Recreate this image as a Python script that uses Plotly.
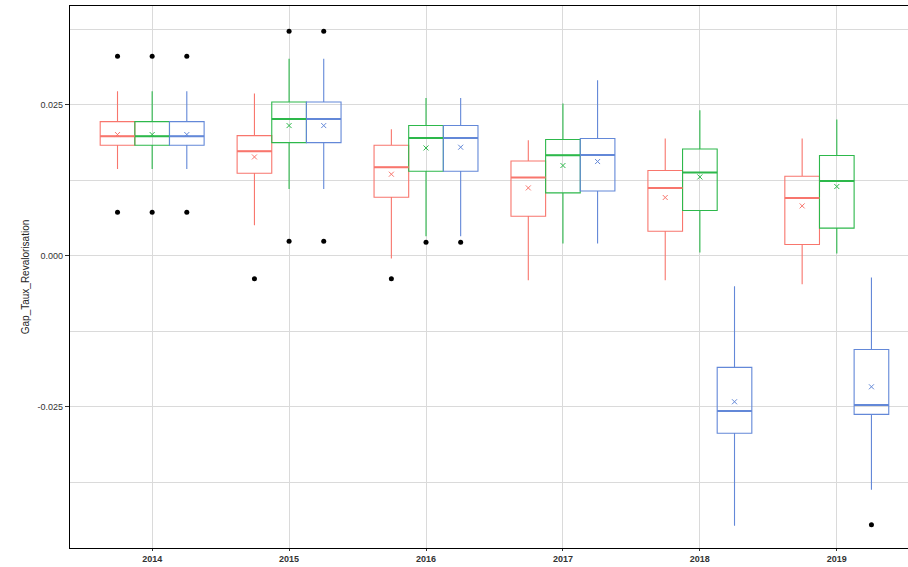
import plotly.graph_objects as go

years = [2014, 2015, 2016, 2017, 2018, 2019]
groups = ["Groupe 1", "Groupe 2", "Groupe 3"]
colors = ["#F8766D", "#2DB84B", "#6388D8"]
dodge = [-0.253, 0.0, 0.253]
box_width = 0.253

# Red series
red_lower = [0.0144, 0.00508, -0.00043, -0.00402, -0.00402, -0.00469]
red_q1 = [0.01833, 0.01369, 0.00972, 0.00657, 0.00409, 0.00189]
red_median = [0.01982, 0.01733, 0.01468, 0.01298, 0.01126, 0.0096]
red_q3 = [0.02225, 0.01993, 0.01833, 0.01573, 0.01414, 0.0132]
red_upper = [0.02727, 0.02689, 0.02098, 0.01915, 0.01944, 0.01944]
red_mean = [0.0201, 0.01639, 0.01353, 0.01126, 0.00967, 0.00828]
red_out_years = [2014, 2014, 2015, 2016]
red_out_values = [0.03306, 0.00723, -0.0038, -0.0038]

# Green series
green_lower = [0.0144, 0.01109, 0.00326, 0.00205, 0.00056, 0.0004]
green_q1 = [0.01833, 0.01877, 0.01402, 0.01043, 0.00752, 0.00459]
green_median = [0.01982, 0.02268, 0.01954, 0.01667, 0.01381, 0.01242]
green_q3 = [0.02225, 0.0255, 0.02159, 0.01927, 0.01771, 0.01662]
green_upper = [0.02727, 0.03268, 0.02616, 0.02523, 0.02412, 0.02258]
green_mean = [0.0201, 0.02159, 0.01788, 0.01497, 0.01308, 0.01149]
green_out_years = [2014, 2014, 2015, 2015, 2016]
green_out_values = [0.03306, 0.00723, 0.0372, 0.00243, 0.00227]

# Blue series
blue_lower = [0.0144, 0.01109, 0.00326, 0.00205, -0.0447, -0.03874]
blue_q1 = [0.01833, 0.01877, 0.01402, 0.01076, -0.0294, -0.02626]
blue_median = [0.01982, 0.02268, 0.01954, 0.01672, -0.02571, -0.02472]
blue_q3 = [0.02225, 0.0255, 0.02159, 0.01944, -0.01848, -0.0155]
blue_upper = [0.02727, 0.03268, 0.02616, 0.02909, -0.00502, -0.00358]
blue_mean = [0.0201, 0.02159, 0.018, 0.01563, -0.02417, -0.02169]
blue_out_years = [2014, 2014, 2015, 2015, 2016, 2019]
blue_out_values = [0.03306, 0.00723, 0.0372, 0.00243, 0.00227, -0.04454]

series = [
    (red_lower, red_q1, red_median, red_q3, red_upper, red_mean, red_out_years, red_out_values),
    (green_lower, green_q1, green_median, green_q3, green_upper, green_mean, green_out_years, green_out_values),
    (blue_lower, blue_q1, blue_median, blue_q3, blue_upper, blue_mean, blue_out_years, blue_out_values),
]

fig = go.Figure()
for i, (lo, q1, med, q3, up, mn, oy, ov) in enumerate(series):
    xs = [y + dodge[i] for y in years]
    fig.add_trace(go.Box(
        x=xs, q1=q1, median=med, q3=q3, lowerfence=lo, upperfence=up,
        name=groups[i], width=box_width, whiskerwidth=0,
        line=dict(color=colors[i], width=1.1),
        fillcolor="rgba(255,255,255,0)", boxpoints=False,
        hoverinfo="skip", showlegend=False,
    ))
    # thicker median line (ggplot style)
    mx, my = [], []
    for x, m in zip(xs, med):
        mx += [x - box_width / 2, x + box_width / 2, None]
        my += [m, m, None]
    fig.add_trace(go.Scatter(
        x=mx, y=my, mode="lines", line=dict(color=colors[i], width=2),
        showlegend=False, hoverinfo="skip",
    ))
    fig.add_trace(go.Scatter(
        x=xs, y=mn, mode="markers", showlegend=False, hoverinfo="skip",
        marker=dict(symbol="x-thin", size=5, line=dict(width=1, color=colors[i]), color=colors[i]),
    ))
    fig.add_trace(go.Scatter(
        x=[y + dodge[i] for y in oy], y=ov, mode="markers", showlegend=False, hoverinfo="skip",
        marker=dict(symbol="circle", size=5, color="black"),
    ))

fig.update_layout(
    width=908, height=567,
    margin=dict(l=70, r=0, t=6, b=19),
    paper_bgcolor="white", plot_bgcolor="white",
    font=dict(family="Liberation Sans, Arial, sans-serif", color="black", size=9),
    boxmode="overlay",
)
fig.update_xaxes(
    range=[2013.4, 2019.52], tickvals=years, ticktext=[str(y) for y in years],
    showgrid=True, gridcolor="#DADADA", gridwidth=1, zeroline=False,
    showline=True, linecolor="black", linewidth=1.3, mirror=True,
    ticks="outside", ticklen=2, tickcolor="#333",
    tickfont=dict(size=9, color="#333", weight="bold"),
)
fig.update_yaxes(
    range=[-0.0484, 0.0414], tickvals=[-0.025, 0.0, 0.025],
    ticktext=["-0.025", "0.000", "0.025"],
    showgrid=True, gridcolor="#DADADA", gridwidth=1, zeroline=False,
    minor=dict(tickvals=[-0.0375, -0.0125, 0.0125, 0.0375], showgrid=True, gridcolor="#DADADA", gridwidth=1, ticks=""),
    showline=True, linecolor="black", linewidth=1.3,
    ticks="outside", ticklen=4, tickcolor="#333", tickfont=dict(size=9, color="#333"),
    title=dict(text="Gap_Taux_Revalorisation", font=dict(size=10, color="#222"), standoff=6),
)

fig.write_html("out.html", config={"displayModeBar": False},
               post_script="document.body.style.margin='0';")
